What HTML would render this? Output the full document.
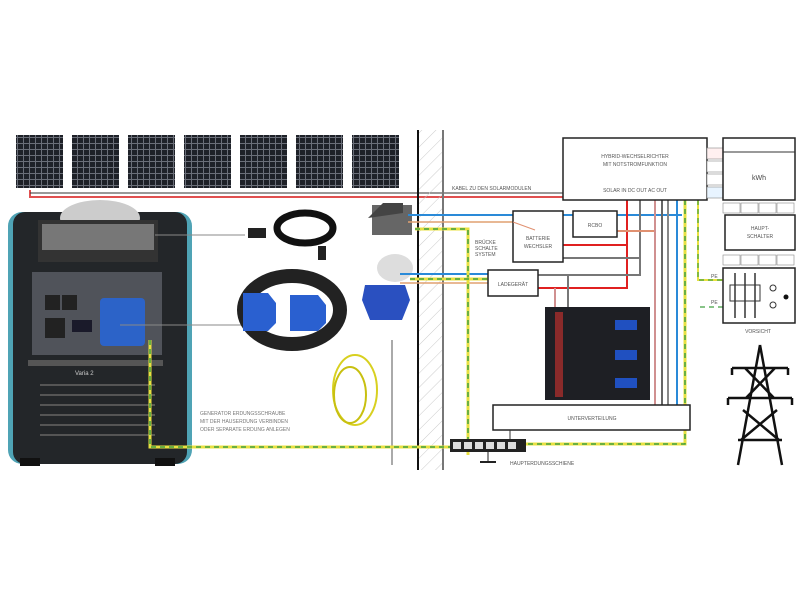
<!DOCTYPE html>
<html><head><meta charset="utf-8"><style>
body{margin:0;background:#fff;}
svg{display:block;font-family:"Liberation Sans",sans-serif;}
</style></head><body>
<svg width="800" height="600" viewBox="0 0 800 600" xmlns="http://www.w3.org/2000/svg">
<defs>
<pattern id="cells" width="6" height="6" patternUnits="userSpaceOnUse">
<rect width="6" height="6" fill="#6a6e78"/><rect width="5" height="5" fill="#1e2128"/>
</pattern>
<pattern id="hatch" width="10" height="10" patternUnits="userSpaceOnUse" patternTransform="rotate(45)">
<line x1="0" y1="0" x2="0" y2="10" stroke="#ccc" stroke-width="1"/>
</pattern>
</defs>
<g>
<rect x="16" y="135" width="47" height="53" fill="url(#cells)"/>
<rect x="72" y="135" width="47" height="53" fill="url(#cells)"/>
<rect x="128" y="135" width="47" height="53" fill="url(#cells)"/>
<rect x="184" y="135" width="47" height="53" fill="url(#cells)"/>
<rect x="240" y="135" width="47" height="53" fill="url(#cells)"/>
<rect x="296" y="135" width="47" height="53" fill="url(#cells)"/>
<rect x="352" y="135" width="47" height="53" fill="url(#cells)"/>
</g>
<polyline points="30,190 30,197 563,197" fill="none" stroke="#e05050" stroke-width="2"/>
<line x1="30" y1="193" x2="563" y2="193" stroke="#333" stroke-width="1"/>
<text x="452" y="190" font-size="5" fill="#555">KABEL ZU DEN SOLARMODULEN</text>
<rect x="418" y="130" width="25" height="340" fill="url(#hatch)"/>
<line x1="418" y1="130" x2="418" y2="470" stroke="#111" stroke-width="2"/>
<line x1="443" y1="130" x2="443" y2="470" stroke="#777" stroke-width="2"/>
<!-- generator -->
<rect x="8" y="212" width="184" height="252" rx="14" fill="#4fa3b5"/>
<rect x="13" y="212" width="174" height="252" rx="12" fill="#232629"/>
<ellipse cx="100" cy="218" rx="40" ry="18" fill="#ccc"/>
<rect x="38" y="220" width="120" height="42" fill="#333"/>
<rect x="42" y="224" width="112" height="26" fill="#777"/>
<rect x="32" y="272" width="130" height="83" fill="#50535a"/>
<rect x="100" y="298" width="45" height="48" rx="4" fill="#2c63c8"/>
<rect x="45" y="295" width="15" height="15" fill="#222"/><rect x="62" y="295" width="15" height="15" fill="#222"/>
<rect x="45" y="318" width="20" height="20" fill="#222"/>
<rect x="72" y="320" width="20" height="12" fill="#1a1a2a"/>
<rect x="28" y="360" width="135" height="6" fill="#555"/>
<text x="75" y="375" font-size="6" fill="#ccc">Varia 2</text>
<g stroke="#555" stroke-width="2">
<line x1="40" y1="385" x2="155" y2="385"/><line x1="40" y1="395" x2="155" y2="395"/>
<line x1="40" y1="405" x2="155" y2="405"/><line x1="40" y1="415" x2="155" y2="415"/>
<line x1="40" y1="425" x2="155" y2="425"/><line x1="40" y1="435" x2="155" y2="435"/>
</g>
<rect x="20" y="458" width="20" height="8" fill="#111"/><rect x="155" y="458" width="20" height="8" fill="#111"/>
<line x1="155" y1="235" x2="245" y2="235" stroke="#888" stroke-width="1"/>
<line x1="120" y1="325" x2="245" y2="325" stroke="#888" stroke-width="1"/>
<!-- cables -->
<ellipse cx="305" cy="228" rx="28" ry="15" fill="none" stroke="#111" stroke-width="7"/>
<rect x="248" y="228" width="18" height="10" fill="#222"/>
<rect x="318" y="246" width="8" height="14" fill="#222"/>
<ellipse cx="292" cy="310" rx="48" ry="34" fill="none" stroke="#222" stroke-width="14"/>
<path d="M243 293 h25 l8 10 v20 l-8 8 h-25z" fill="#2a60d0"/>
<path d="M290 295 h28 l8 10 v18 l-8 8 h-28z" fill="#2a60d0"/>
<ellipse cx="355" cy="390" rx="22" ry="35" fill="none" stroke="#d8d020" stroke-width="2"/>
<ellipse cx="350" cy="395" rx="16" ry="28" fill="none" stroke="#c8c010" stroke-width="2"/>
<line x1="392" y1="340" x2="392" y2="465" stroke="#aaa" stroke-width="2"/>
<rect x="372" y="205" width="40" height="30" fill="#666"/><path d="M368 218 l15 -15 h20 v10z" fill="#444"/>
<ellipse cx="395" cy="268" rx="18" ry="14" fill="#ddd"/>
<path d="M365 285 h40 l5 15 l-8 20 h-32 l-8 -20z" fill="#2a50c0"/>
<line x1="408" y1="215" x2="682" y2="215" stroke="#2a8ad8" stroke-width="2"/>
<line x1="408" y1="222" x2="513" y2="222" stroke="#e0a070" stroke-width="1.5"/>
<line x1="400" y1="274" x2="488" y2="274" stroke="#2a8ad8" stroke-width="2"/>
<line x1="400" y1="283" x2="488" y2="283" stroke="#e0a070" stroke-width="1.5"/>
<polyline points="415,229 468,229 468,455" fill="none" stroke="#e8e040" stroke-width="3"/>
<polyline points="415,229 468,229 468,455" fill="none" stroke="#40a040" stroke-width="1.5" stroke-dasharray="5,4"/>
<line x1="410" y1="279" x2="488" y2="279" stroke="#e8e040" stroke-width="3"/>
<line x1="410" y1="279" x2="488" y2="279" stroke="#40a040" stroke-width="1.5" stroke-dasharray="5,4"/>
<polyline points="150,340 150,447 450,447" fill="none" stroke="#e8e040" stroke-width="3"/>
<polyline points="150,340 150,447 450,447" fill="none" stroke="#40a040" stroke-width="1.5" stroke-dasharray="5,4"/>
<text x="475" y="244" font-size="5" fill="#555">BRÜCKE</text>
<text x="475" y="250" font-size="5" fill="#555">SCHALTE</text>
<text x="475" y="256" font-size="5" fill="#555">SYSTEM</text>
<text x="200" y="415" font-size="5" fill="#777">GENERATOR ERDUNGSSCHRAUBE</text>
<text x="200" y="423" font-size="5" fill="#777">MIT DER HAUSERDUNG VERBINDEN</text>
<text x="200" y="431" font-size="5" fill="#777">ODER SEPARATE ERDUNG ANLEGEN</text>
<g fill="none" stroke-width="2">
<polyline points="627,200 627,288 538,288" stroke="#e02020"/>
<line x1="563" y1="245" x2="627" y2="245" stroke="#e02020"/>
<polyline points="640,200 640,275 538,275" stroke="#777"/>
<line x1="563" y1="258" x2="640" y2="258" stroke="#777"/>
<line x1="617" y1="231" x2="655" y2="231" stroke="#e09070"/>
<line x1="655" y1="200" x2="655" y2="405" stroke="#d09090"/>
<line x1="662" y1="200" x2="662" y2="405" stroke="#666"/>
<line x1="668" y1="200" x2="668" y2="405" stroke="#888"/>
<line x1="677" y1="200" x2="677" y2="405" stroke="#2a8ad8"/>
<line x1="555" y1="288" x2="555" y2="310" stroke="#d09090"/>
<line x1="568" y1="275" x2="568" y2="310" stroke="#777"/>
</g>
<polyline points="685,200 685,444 525,444" fill="none" stroke="#e8e040" stroke-width="3"/>
<polyline points="685,200 685,444 525,444" fill="none" stroke="#40a040" stroke-width="1.5" stroke-dasharray="5,4"/>
<polyline points="698,200 698,280 723,280" fill="none" stroke="#e8e040" stroke-width="2"/>
<polyline points="698,200 698,280 723,280" fill="none" stroke="#40a040" stroke-width="1.2" stroke-dasharray="5,4"/>
<polyline points="700,307 723,307" fill="none" stroke="#40a040" stroke-width="1.2" stroke-dasharray="5,4"/>
<rect x="563" y="138" width="144" height="62" fill="#fff" stroke="#222" stroke-width="1.5"/>
<text x="635" y="158" font-size="5" text-anchor="middle" fill="#555">HYBRID-WECHSELRICHTER</text>
<text x="635" y="166" font-size="5" text-anchor="middle" fill="#555">MIT NOTSTROMFUNKTION</text>
<text x="635" y="192" font-size="5" text-anchor="middle" fill="#555">SOLAR IN   DC OUT   AC OUT</text>
<g stroke="#888" stroke-width="0.6">
<rect x="707" y="148" width="16" height="11" fill="#fff0f0"/><rect x="707" y="161" width="16" height="11" fill="#fff"/><rect x="707" y="174" width="16" height="11" fill="#fff"/><rect x="707" y="187" width="16" height="11" fill="#e8f4ff"/>
</g>
<rect x="723" y="138" width="72" height="62" fill="#fff" stroke="#222" stroke-width="1.5"/>
<line x1="723" y1="152" x2="795" y2="152" stroke="#333"/>
<text x="759" y="180" font-size="7" text-anchor="middle" fill="#444">kWh</text>
<g stroke="#888" stroke-width="0.6" fill="#fff">
<rect x="723" y="203" width="17" height="10"/><rect x="741" y="203" width="17" height="10"/><rect x="759" y="203" width="17" height="10"/><rect x="777" y="203" width="17" height="10"/>
<rect x="723" y="255" width="17" height="10"/><rect x="741" y="255" width="17" height="10"/><rect x="759" y="255" width="17" height="10"/><rect x="777" y="255" width="17" height="10"/>
</g>
<rect x="725" y="215" width="70" height="35" fill="#fff" stroke="#222" stroke-width="1.5"/>
<text x="760" y="230" font-size="5" text-anchor="middle" fill="#555">HAUPT-</text>
<text x="760" y="238" font-size="5" text-anchor="middle" fill="#555">SCHALTER</text>
<rect x="723" y="268" width="72" height="55" fill="#fff" stroke="#222" stroke-width="1.5"/>
<g stroke="#333" stroke-width="1.5"><line x1="735" y1="273" x2="735" y2="318"/><line x1="745" y1="273" x2="745" y2="318"/><line x1="755" y1="273" x2="755" y2="318"/></g>
<rect x="730" y="285" width="30" height="16" fill="none" stroke="#333"/>
<circle cx="773" cy="288" r="3" fill="none" stroke="#333"/><circle cx="773" cy="305" r="3" fill="none" stroke="#333"/>
<circle cx="786" cy="297" r="2.5" fill="#111"/>
<text x="758" y="333" font-size="5" text-anchor="middle" fill="#555">VORSICHT</text>
<text x="711" y="278" font-size="5" fill="#555">PE</text><text x="711" y="304" font-size="5" fill="#555">PE</text>
<rect x="513" y="211" width="50" height="51" fill="#fff" stroke="#222" stroke-width="1.5"/>
<text x="538" y="240" font-size="5" text-anchor="middle" fill="#555">BATTERIE</text>
<text x="538" y="248" font-size="5" text-anchor="middle" fill="#555">WECHSLER</text>
<line x1="513" y1="222" x2="535" y2="230" stroke="#e09070"/>
<rect x="573" y="211" width="44" height="26" fill="#fff" stroke="#222" stroke-width="1.5"/>
<text x="595" y="227" font-size="5" text-anchor="middle" fill="#555">RCBO</text>
<rect x="488" y="270" width="50" height="26" fill="#fff" stroke="#222" stroke-width="1.5"/>
<text x="513" y="286" font-size="5" text-anchor="middle" fill="#555">LADEGERÄT</text>
<rect x="545" y="307" width="105" height="93" fill="#1e1f24"/>
<rect x="555" y="312" width="8" height="85" fill="#8a2a2a"/>
<rect x="615" y="320" width="22" height="10" fill="#2050c0"/>
<rect x="615" y="350" width="22" height="10" fill="#2050c0"/>
<rect x="615" y="378" width="22" height="10" fill="#2050c0"/>
<rect x="493" y="405" width="197" height="25" fill="#fff" stroke="#222" stroke-width="1.5"/>
<text x="592" y="420" font-size="5" text-anchor="middle" fill="#555">UNTERVERTEILUNG</text>
<line x1="510" y1="430" x2="510" y2="440" stroke="#333"/>
<rect x="450" y="439" width="76" height="13" fill="#222"/>
<g fill="#ddd"><rect x="453" y="442" width="8" height="7"/><rect x="464" y="442" width="8" height="7"/><rect x="475" y="442" width="8" height="7"/><rect x="486" y="442" width="8" height="7"/><rect x="497" y="442" width="8" height="7"/><rect x="508" y="442" width="8" height="7"/></g>
<line x1="488" y1="452" x2="488" y2="462" stroke="#222"/>
<line x1="480" y1="462" x2="496" y2="462" stroke="#222" stroke-width="2"/>
<text x="510" y="465" font-size="5" fill="#555">HAUPTERDUNGSSCHIENE</text>
<!-- pylon -->
<g stroke="#111" stroke-width="2.5" fill="none">
<path d="M760 345 L738 465 M760 345 L782 465"/>
<path d="M732 368 h56 M728 398 h64 M745 368 L774 398 M775 368 L746 398 M743 410 L779 440 M777 410 L741 440 M738 440 h44"/>
<path d="M732 368 v7 M788 368 v7 M728 398 v7 M792 398 v7"/>
</g>
</svg>
</body></html>
